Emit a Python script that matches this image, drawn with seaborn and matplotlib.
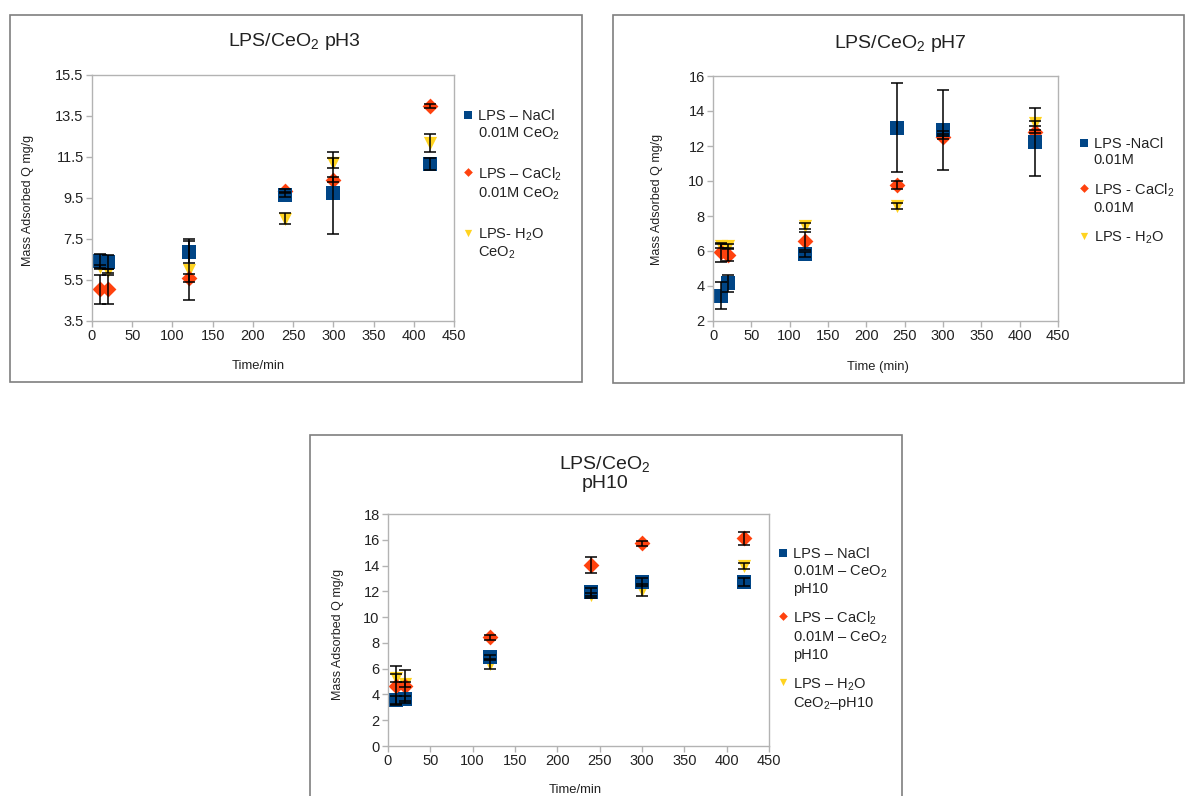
import matplotlib
matplotlib.use("Agg")
import matplotlib.pyplot as plt
import seaborn as sns
import pandas as pd
from matplotlib.patches import Rectangle

sns.set_theme(style="white")
plt.rcParams['font.family'] = ['Liberation Sans', 'DejaVu Sans']
plt.rcParams['mathtext.fontset'] = 'custom'
plt.rcParams['mathtext.rm'] = 'Liberation Sans'
plt.rcParams['mathtext.it'] = 'Liberation Sans'

# ---------------- data ----------------
time = [10, 20, 120, 240, 300, 420]

ph3_nacl = [6.42, 6.37, 6.86, 9.66, 9.74, 11.15]
ph3_nacl_err = [0.35, 0.35, 0.55, 0.12, 2.0, 0.3]
ph3_cacl = [5.04, 5.04, 5.58, 9.82, 10.39, 13.99]
ph3_cacl_err = [0.7, 0.7, 0.2, 0.1, 0.12, 0.1]
ph3_h2o = [6.15, 5.93, 6.01, 8.48, 11.2, 12.18]
ph3_h2o_err = [0.1, 0.1, 1.5, 0.27, 0.25, 0.45]

ph7_nacl = [3.45, 4.15, 5.81, 13.05, 12.91, 12.25]
ph7_nacl_err = [0.75, 0.47, 0.15, 2.55, 2.3, 1.95]
ph7_cacl = [5.92, 5.77, 6.57, 9.77, 12.53, 12.82]
ph7_cacl_err = [0.55, 0.35, 0.5, 0.25, 0.15, 0.1]
ph7_h2o = [6.29, 6.29, 7.43, 8.57, 12.7, 13.3]
ph7_h2o_err = [0.1, 0.1, 0.15, 0.17, 0.15, 0.15]

ph10_nacl = [3.57, 3.62, 6.88, 11.92, 12.75, 12.75]
ph10_nacl_err = [0.3, 0.25, 0.2, 0.3, 0.3, 0.3]
ph10_cacl = [4.68, 4.68, 8.43, 14.04, 15.72, 16.11]
ph10_cacl_err = [1.5, 1.2, 0.2, 0.6, 0.2, 0.5]
ph10_h2o = [5.25, 4.8, 6.36, 11.7, 12.1, 13.97]
ph10_h2o_err = [0.3, 0.2, 0.4, 0.2, 0.5, 0.2]

ph3_labels = ["LPS – NaCl\n0.01M CeO$_2$", "LPS – CaCl$_2$\n0.01M CeO$_2$", "LPS- H$_2$O\nCeO$_2$"]
ph7_labels = ["LPS -NaCl\n0.01M", "LPS - CaCl$_2$\n0.01M", "LPS - H$_2$O"]
ph10_labels = ["LPS – NaCl\n0.01M – CeO$_2$\npH10", "LPS – CaCl$_2$\n0.01M – CeO$_2$\npH10",
               "LPS – H$_2$O\nCeO$_2$–pH10"]

ph3_yticks = [3.5, 5.5, 7.5, 9.5, 11.5, 13.5, 15.5]
ph7_yticks = [2, 4, 6, 8, 10, 12, 14, 16]
ph10_yticks = [0, 2, 4, 6, 8, 10, 12, 14, 16, 18]
xticks = [0, 50, 100, 150, 200, 250, 300, 350, 400, 450]

series_keys = ["NaCl", "CaCl2", "H2O"]
colors = {"NaCl": "#004586", "CaCl2": "#ff420e", "H2O": "#ffd320"}
markers = {"NaCl": "s", "CaCl2": "D", "H2O": "v"}
sizes = {"NaCl": 110, "CaCl2": 65, "H2O": 90}

W, H = 1186, 796
TXT = "#222222"
fig = plt.figure(figsize=(W / 100, H / 100), dpi=100)


def px_rect(x0, y0, x1, y1):
    return [x0 / W, 1 - y1 / H, (x1 - x0) / W, (y1 - y0) / H]


# panel frames
for (x0, y0, x1, y1) in [(10, 15, 582, 382), (613, 15, 1184, 383), (310, 435, 902, 800)]:
    fig.patches.append(Rectangle((x0 / W, 1 - y1 / H), (x1 - x0) / W, (y1 - y0) / H,
                                 transform=fig.transFigure, fill=False,
                                 edgecolor="#7f7f7f", linewidth=1.2))


def panel(rect, vals, errs, labels, yticks, title, title_xy, xlabel, xlabel_xy,
          ylabel_xy, leg_xy, leg_spacing):
    ax = fig.add_axes(px_rect(*rect))
    # draw order: H2O, CaCl2, NaCl (NaCl on top)
    for key in ["H2O", "CaCl2", "NaCl"]:
        df = pd.DataFrame({"time": time, "Q": vals[key]})
        sns.scatterplot(data=df, x="time", y="Q", color=colors[key], marker=markers[key],
                        s=sizes[key], linewidth=0, ax=ax, zorder=2, label=key)
    for key in ["H2O", "CaCl2", "NaCl"]:
        ax.errorbar(time, vals[key], yerr=errs[key], fmt="none", ecolor="black",
                    elinewidth=1.1, capsize=4, capthick=1.1, zorder=3)
    ax.set_xlim(0, 450)
    ax.set_ylim(yticks[0], yticks[-1])
    ax.set_xticks(xticks)
    ax.set_yticks(yticks)
    ax.set_yticklabels([f"{y:g}" for y in yticks])
    ax.tick_params(direction="out", length=4, width=1, color="#b3b3b3",
                   labelcolor=TXT, labelsize=10.5, pad=2,
                   bottom=True, left=True)
    for s in ax.spines.values():
        s.set_color("#b3b3b3")
        s.set_linewidth(1)
    ax.set_xlabel("")
    ax.set_ylabel("")
    fig.text(title_xy[0] / W, 1 - title_xy[1] / H, title, ha="center", va="center",
             fontsize=14, color=TXT, linespacing=1.0)
    fig.text(xlabel_xy[0] / W, 1 - xlabel_xy[1] / H, xlabel, ha="center", va="center",
             fontsize=9.4, color=TXT)
    fig.text(ylabel_xy[0] / W, 1 - ylabel_xy[1] / H, "Mass Adsorbed Q mg/g", ha="center",
             va="center", rotation=90, fontsize=9, color=TXT)
    handles, _ = ax.get_legend_handles_labels()
    hmap = dict(zip(["H2O", "CaCl2", "NaCl"], handles))
    leg = ax.legend([hmap[k] for k in series_keys], labels, loc="upper left",
                    bbox_to_anchor=(leg_xy[0] / W, 1 - leg_xy[1] / H),
                    bbox_transform=fig.transFigure, frameon=False, fontsize=10.5,
                    handlelength=0.6, handletextpad=0.35, labelspacing=leg_spacing,
                    borderpad=0, borderaxespad=0, markerscale=0.55, labelcolor=TXT)
    # align markers with the first line of each label
    for col in leg._legend_handle_box.get_children():
        for item in col.get_children():
            item.align = "top"
    return ax


panel((92, 75, 454, 321),
      {"NaCl": ph3_nacl, "CaCl2": ph3_cacl, "H2O": ph3_h2o},
      {"NaCl": ph3_nacl_err, "CaCl2": ph3_cacl_err, "H2O": ph3_h2o_err},
      ph3_labels, ph3_yticks, "LPS/CeO$_2$ pH3", (294, 42), "Time/min", (258, 366),
      (28, 200), (464, 109), 1.65)

panel((713, 76, 1058, 321),
      {"NaCl": ph7_nacl, "CaCl2": ph7_cacl, "H2O": ph7_h2o},
      {"NaCl": ph7_nacl_err, "CaCl2": ph7_cacl_err, "H2O": ph7_h2o_err},
      ph7_labels, ph7_yticks, "LPS/CeO$_2$ pH7", (900, 43), "Time (min)", (878, 367),
      (657, 199), (1080, 137), 1.0)

panel((388, 514, 769, 746),
      {"NaCl": ph10_nacl, "CaCl2": ph10_cacl, "H2O": ph10_h2o},
      {"NaCl": ph10_nacl_err, "CaCl2": ph10_cacl_err, "H2O": ph10_h2o_err},
      ph10_labels, ph10_yticks, "LPS/CeO$_2$\npH10", (605, 473), "Time/min", (575, 790),
      (338, 634), (779, 547), 0.95)

fig.savefig("out.png", dpi=100, facecolor="white")
